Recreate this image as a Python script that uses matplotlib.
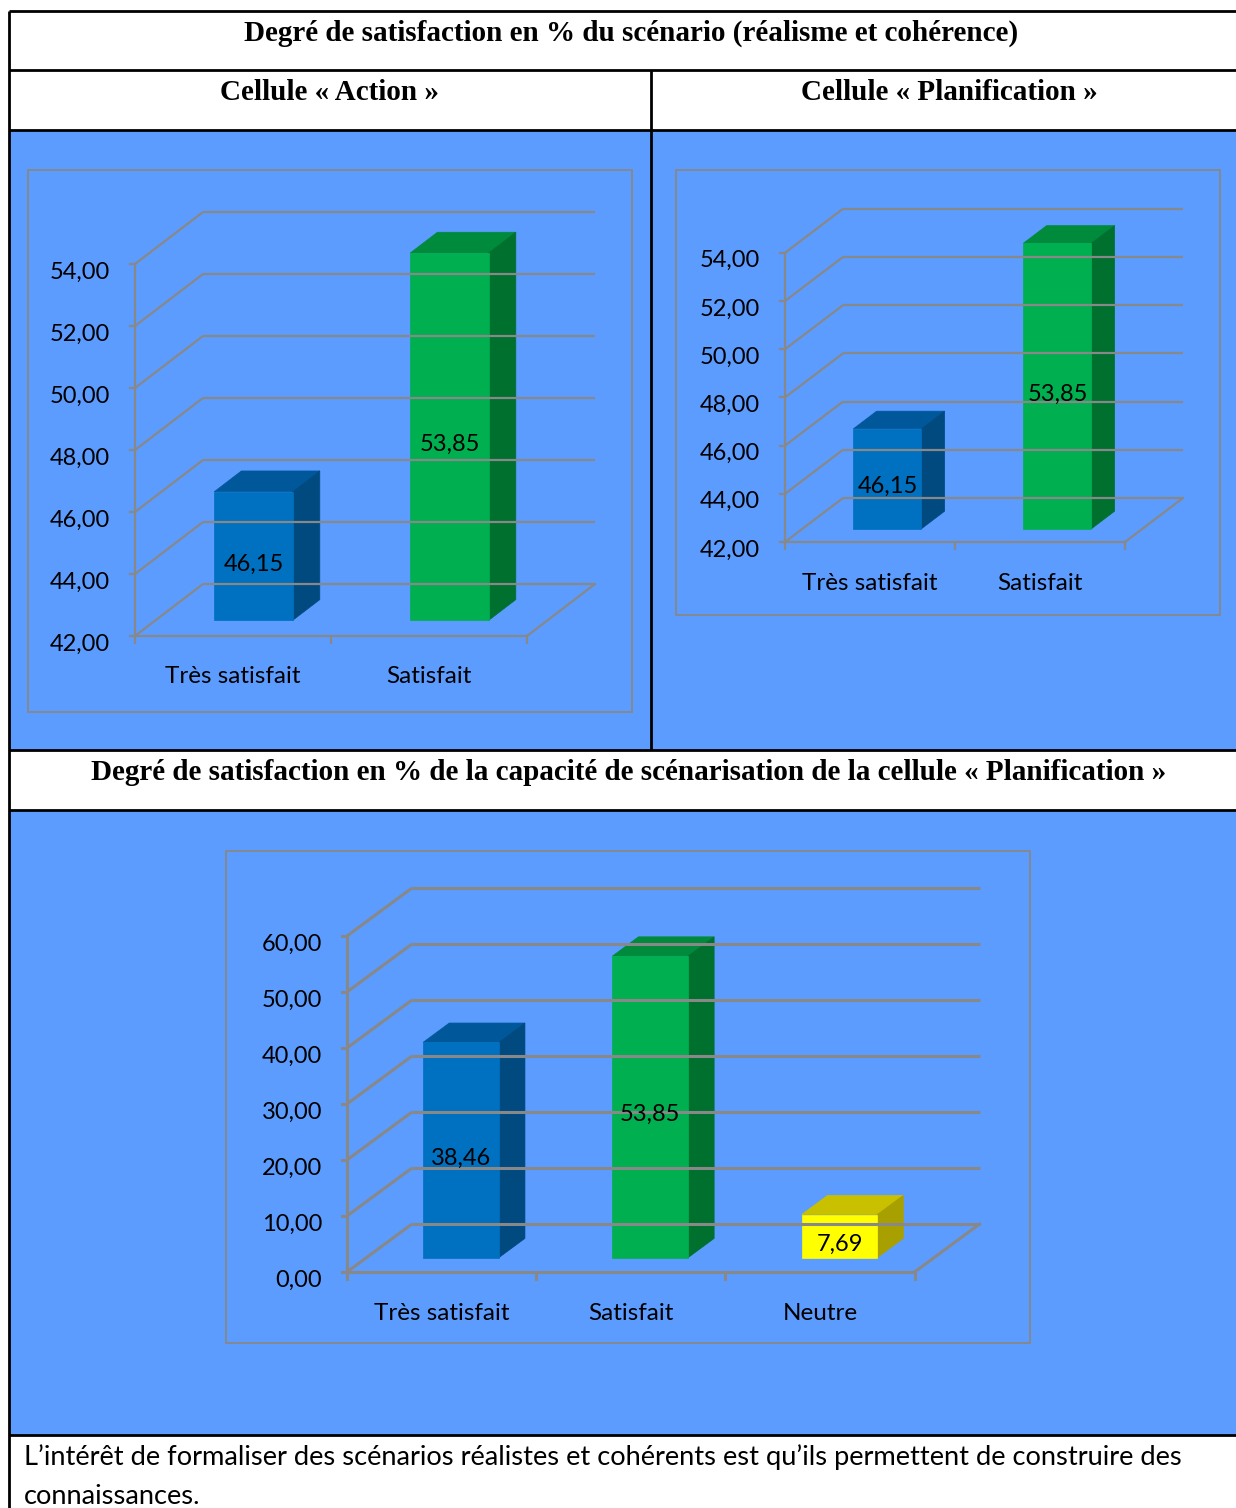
import matplotlib
matplotlib.use("Agg")
import matplotlib.pyplot as plt
from matplotlib.patches import Polygon, Rectangle

# ---------------------------------------------------------------- data
action_categories = ["Très satisfait", "Satisfait"]
action_values = [46.15, 53.85]
action_ticks = [42, 44, 46, 48, 50, 52, 54]

planif_categories = ["Très satisfait", "Satisfait"]
planif_values = [46.15, 53.85]
planif_ticks = [42, 44, 46, 48, 50, 52, 54]

capacity_categories = ["Très satisfait", "Satisfait", "Neutre"]
capacity_values = [38.46, 53.85, 7.69]
capacity_ticks = [0, 10, 20, 30, 40, 50, 60]

title_top = "Degré de satisfaction en % du scénario (réalisme et cohérence)"
title_action = "Cellule « Action »"
title_planif = "Cellule « Planification »"
title_capacity = ("Degré de satisfaction en % de la capacité de scénarisation "
                  "de la cellule « Planification »")
footer_lines = ["L’intérêt de formaliser des scénarios réalistes et cohérents "
                "est qu’ils permettent de construire des",
                "connaissances."]

# ---------------------------------------------------------------- style
W, H = 1236, 1508
PANEL_BG = "#5C9CFF"
GRID = "#888888"
SANS = ["Lato", "DejaVu Sans"]
SERIF = ["Liberation Serif", "DejaVu Serif"]
# (front, top, side) shades for each bar
BAR_SHADES = [("#0070C0", "#00589A", "#004A80"),
              ("#00B050", "#008A3C", "#00702F"),
              ("#FFFF00", "#C9C000", "#A8A000")]

fig = plt.figure(figsize=(W / 100, H / 100), dpi=100)
fig.patch.set_facecolor("white")

# page layer in pixel coordinates
bg = fig.add_axes([0, 0, 1, 1])
bg.set_xlim(0, W)
bg.set_ylim(H, 0)
bg.axis("off")

bg.add_patch(Rectangle((9, 130), W - 9, 620, facecolor=PANEL_BG, edgecolor="none"))
bg.add_patch(Rectangle((9, 810), W - 9, 625, facecolor=PANEL_BG, edgecolor="none"))

lw = 2.0
for y in (11, 70, 130, 750, 810, 1435):
    bg.plot([9, W], [y, y], color="black", lw=lw, solid_capstyle="butt")
bg.plot([9, 9], [11, H], color="black", lw=lw, solid_capstyle="butt")
bg.plot([651, 651], [70, 750], color="black", lw=lw, solid_capstyle="butt")

TITLE_FS = 21
bg.text(631, 33, title_top, family=SERIF, weight="bold", fontsize=TITLE_FS,
        ha="center", va="center")
bg.text(330, 92, title_action, family=SERIF, weight="bold", fontsize=TITLE_FS,
        ha="center", va="center")
bg.text(949, 92, title_planif, family=SERIF, weight="bold", fontsize=TITLE_FS,
        ha="center", va="center")
bg.text(629, 773, title_capacity, family=SERIF, weight="bold", fontsize=TITLE_FS,
        ha="center", va="center")
bg.text(24, 1457, footer_lines[0], family=SANS, fontsize=19.6, ha="left", va="center")
bg.text(24, 1496, footer_lines[1], family=SANS, fontsize=19.6, ha="left", va="center")


def chart3d(box, origin, cat_px, val_px, depth_px, categories, values, ticks,
            grid_lw=1.6):
    """Excel-style 3-D column chart inside the pixel box (x0, y0, x1, y1)."""
    x0, y0, x1, y1 = box
    ox, oy = origin
    ax = fig.add_axes([x0 / W, 1 - y1 / H, (x1 - x0) / W, (y1 - y0) / H])
    ax.set_facecolor("none")
    ax.axis("off")
    vmin, vmax = ticks[0], ticks[-1]
    ax.set_xlim((x0 - ox) / cat_px, (x1 - ox) / cat_px)
    ax.set_ylim(vmin + (oy - y1) / val_px, vmin + (oy - y0) / val_px)
    ax.add_patch(Rectangle((0, 0), 1, 1, transform=ax.transAxes, fill=False,
                           edgecolor=GRID, lw=1.3, clip_on=False))

    n = len(categories)
    ddx = depth_px[0] / cat_px
    ddy = depth_px[1] / val_px
    px_x = 1.0 / cat_px
    px_y = 1.0 / val_px

    # walls: side diagonals and back gridlines
    for t in ticks:
        ax.plot([0, ddx], [t, t + ddy], color=GRID, lw=grid_lw, solid_capstyle="butt")
        ax.plot([ddx, n + ddx], [t + ddy, t + ddy], color=GRID, lw=grid_lw,
                solid_capstyle="butt")
        ax.plot([-5 * px_x, 0], [t, t], color=GRID, lw=grid_lw)
        ax.text(-25 * px_x, t - 8 * px_y, f"{t:.2f}".replace(".", ","),
                family=SANS, fontsize=17, ha="right", va="center")
    # front axis and floor
    ax.plot([0, 0], [vmin, vmax], color=GRID, lw=grid_lw)
    ax.plot([0, n], [vmin, vmin], color=GRID, lw=grid_lw)
    ax.plot([n, n + ddx], [vmin, vmin + ddy], color=GRID, lw=grid_lw)
    for i in range(n + 1):
        ax.plot([i, i], [vmin, vmin - 7 * px_y], color=GRID, lw=grid_lw)

    # bars
    fd, bd = 0.3, 0.4          # depth start / depth thickness of each bar
    bw = 0.4                   # bar width as a fraction of the category
    for i, (cat, v) in enumerate(zip(categories, values)):
        front, top, side = BAR_SHADES[i]
        xl = i + 0.5 - bw / 2 + fd * ddx
        xr = i + 0.5 + bw / 2 + fd * ddx
        yb = vmin + fd * ddy
        yt = v + fd * ddy
        bx, by = bd * ddx, bd * ddy
        ax.add_patch(Polygon([(xl, yt), (xr, yt), (xr + bx, yt + by), (xl + bx, yt + by)],
                             closed=True, facecolor=top, edgecolor=top, lw=0.5))
        ax.add_patch(Polygon([(xr, yb), (xr, yt), (xr + bx, yt + by), (xr + bx, yb + by)],
                             closed=True, facecolor=side, edgecolor=side, lw=0.5))
        ax.add_patch(Rectangle((xl, yb), xr - xl, yt - yb, facecolor=front,
                               edgecolor=front, lw=0.5))
        ax.text((xl + xr) / 2, (yb + yt) / 2 - 8 * px_y, f"{v:.2f}".replace(".", ","),
                family=SANS, fontsize=17, ha="center", va="center")
        ax.text(i + 0.5, vmin - 41 * px_y, cat, family=SANS, fontsize=17.5,
                ha="center", va="center")
    return ax


chart3d((28, 170, 632, 712), (135, 636), 196, 31.0, (68, 52),
        action_categories, action_values, action_ticks)
chart3d((676, 170, 1220, 615), (785, 542), 170, 24.1, (58, 44),
        planif_categories, planif_values, planif_ticks)
chart3d((226, 851, 1030, 1343), (347, 1272), 189.2, 5.6, (65, 48),
        capacity_categories, capacity_values, capacity_ticks, grid_lw=2.2)

fig.savefig("out.png", dpi=100, facecolor="white")
